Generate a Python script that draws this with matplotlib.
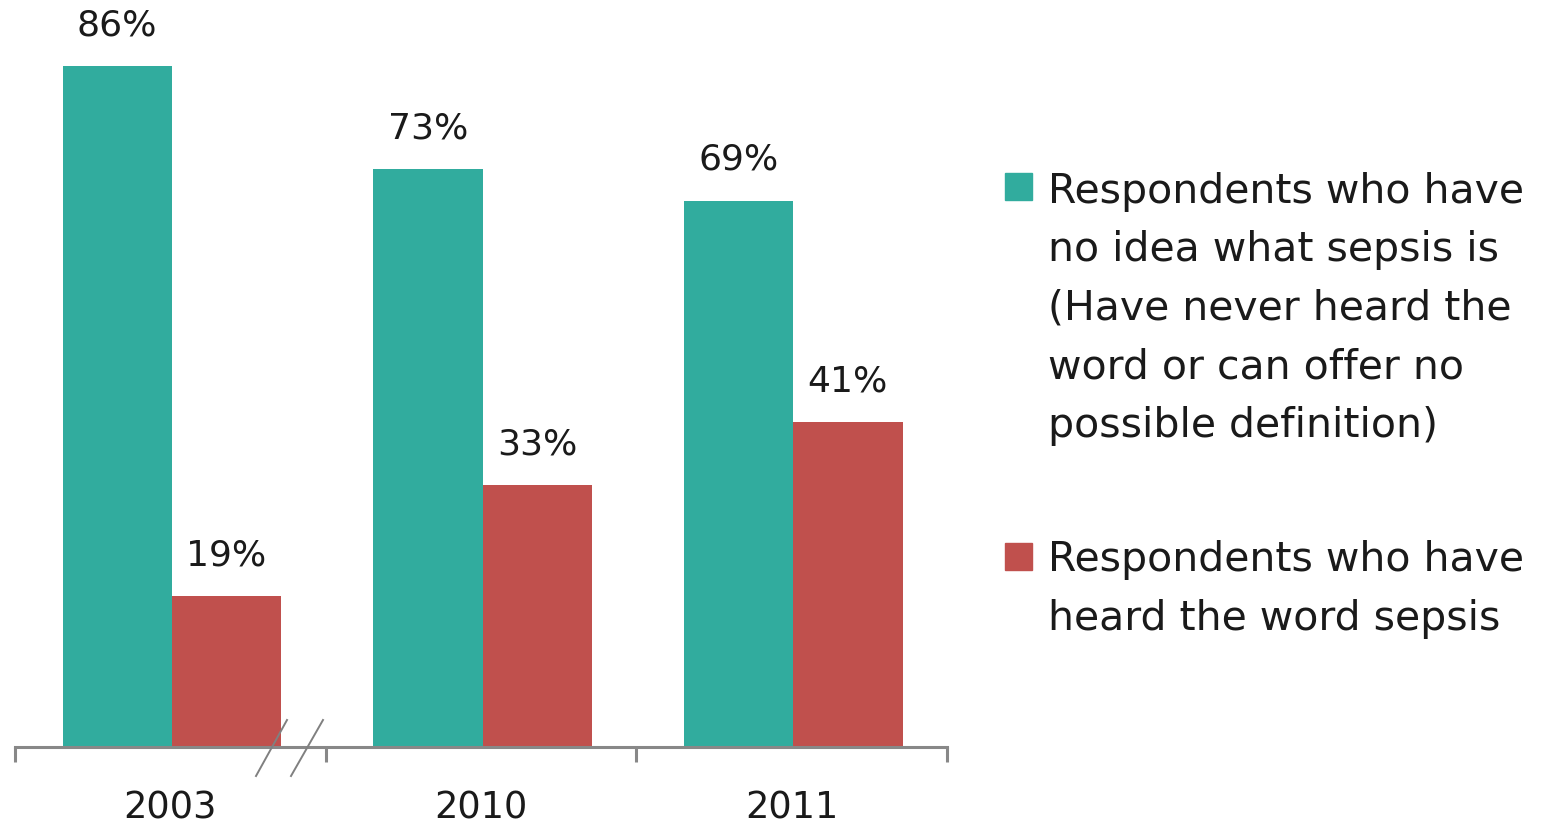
import numpy as np
import matplotlib.pyplot as plt
from matplotlib.lines import Line2D
from matplotlib.patches import Rectangle

years = ['2003', '2010', '2011']
no_idea = [86, 73, 69]
heard = [19, 33, 41]
labels = ['Respondents who have\nno idea what sepsis is\n(Have never heard the\nword or can offer no\npossible definition)',
          'Respondents who have\nheard the word sepsis']
colors = ['#31AC9E', '#C0504D']

W, H = 1541, 826
fig = plt.figure(figsize=(W / 100, H / 100), dpi=100)
ax = fig.add_axes([15 / W, 79.5 / H, 932 / W, 743.8 / H])

x = np.arange(len(years))
w = 0.352
b1 = ax.bar(x - w / 2 + 0.005, no_idea, w, color=colors[0])
b2 = ax.bar(x + w / 2 + 0.005, heard, w, color=colors[1])

for bars, vals in ((b1, no_idea), (b2, heard)):
    for r, v in zip(bars, vals):
        ax.text(r.get_x() + r.get_width() / 2, v + 3.0, f'{v}%',
                ha='center', va='bottom', fontsize=26, color='#1a1a1a')

ax.set_xlim(-0.5, 2.5)
ax.set_ylim(0, 94)
ax.set_yticks([])
for s in ['top', 'right', 'left']:
    ax.spines[s].set_visible(False)
ax.spines['bottom'].set_color('#888888')
ax.spines['bottom'].set_linewidth(2.2)

ax.set_xticks(x)
ax.set_xticklabels(years, fontsize=26.5, color='#1a1a1a')
ax.tick_params(axis='x', which='major', length=0, pad=31)
ax.set_xticks([-0.5, 0.5, 1.5, 2.5], minor=True)
ax.tick_params(axis='x', which='minor', length=10.5, width=2.2, color='#888888')

# axis break marks
for x0, x1 in ((256, 287), (291, 323)):
    fig.add_artist(Line2D([x0 / W, x1 / W], [50 / H, 106 / H],
                          transform=fig.transFigure, color='#808080', lw=1.4))

# legend: square marker beside the first line of each entry
step = 59
for lab, c, base in zip(labels, colors, (201, 571)):
    n = lab.count('\n')
    fig.add_artist(Rectangle((1005 / W, 1 - (base - 1) / H), 27 / W, 27 / H,
                             transform=fig.transFigure, color=c))
    # va='baseline' pins the last line, so offset by the number of lines
    fig.text(1048 / W, 1 - (base + n * step) / H, lab, ha='left', va='baseline',
             fontsize=29.5, color='#1a1a1a', linespacing=1.6)

fig.savefig('out.png', dpi=100)
